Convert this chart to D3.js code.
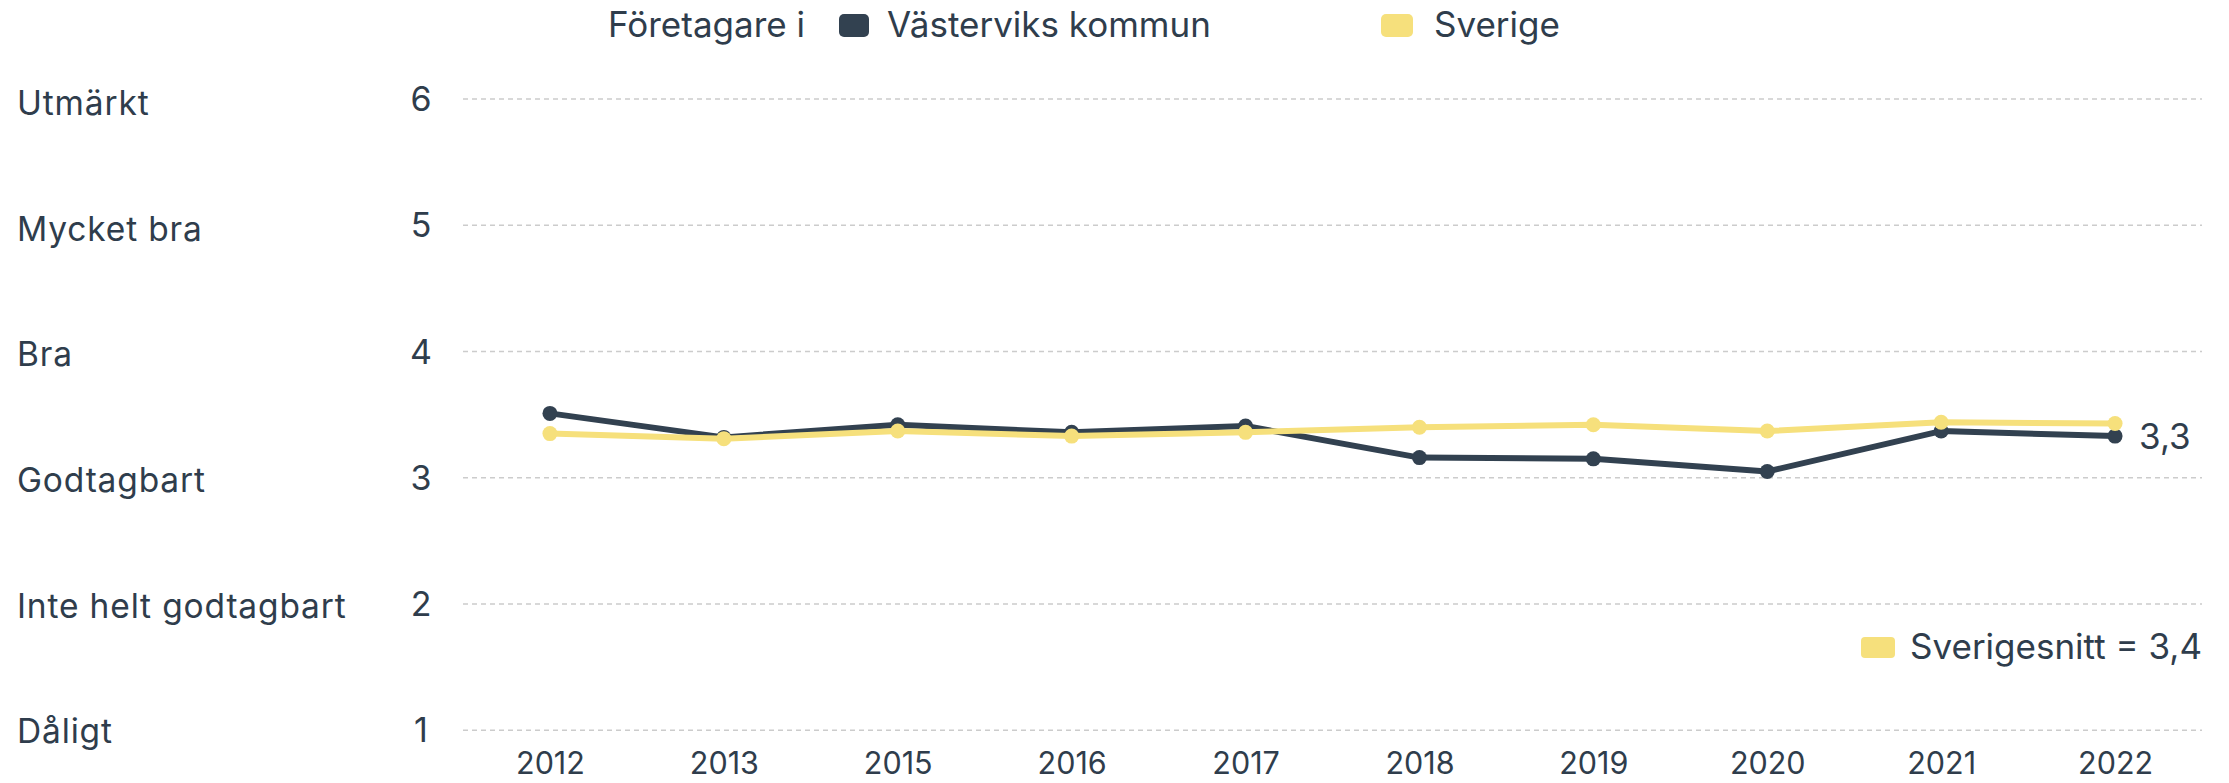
<!DOCTYPE html>
<html lang="sv">
<head>
<meta charset="utf-8">
<script src="https://cdn.jsdelivr.net/npm/d3@7"></script>
<style>
  html, body { margin: 0; padding: 0; background: #ffffff; }
  svg { display: block; font-family: "Inter", "Noto Sans", sans-serif; }
</style>
</head>
<body>
<svg id="chart" width="2229" height="783"></svg>
<script>
// Företagarnas omdöme om det lokala företagsklimatet, 2012–2022
const years = ["2012", "2013", "2015", "2016", "2017", "2018", "2019", "2020", "2021", "2022"];
const vastervik = [3.51, 3.32, 3.42, 3.36, 3.41, 3.16, 3.15, 3.05, 3.37, 3.33];
const sverige = [3.35, 3.31, 3.37, 3.33, 3.36, 3.40, 3.42, 3.37, 3.44, 3.43];
const yTicks = [1, 2, 3, 4, 5, 6];
const gradeLabels = ["Dåligt", "Inte helt godtagbart", "Godtagbart", "Bra", "Mycket bra", "Utmärkt"];
const seriesNames = ["Västerviks kommun", "Sverige"];
const legendTitle = "Företagare i";
const lastValueLabel = "3,3";
const averageLabel = "Sverigesnitt = 3,4";

const colors = { dark: "#324150", yellow: "#f6e07c", text: "#2f3d4c", grid: "#cccccc" };

const svg = d3.select("#chart");

const x = d3.scalePoint().domain(years).range([463, 2202]).padding(0.5);
const y = d3.scaleLinear().domain([1, 6]).range([730.3, 99]);

// Dashed horizontal grid
svg.append("g")
  .selectAll("line")
  .data(yTicks)
  .join("line")
  .attr("x1", 463).attr("x2", 2202)
  .attr("y1", d => y(d)).attr("y2", d => y(d))
  .attr("stroke", colors.grid)
  .attr("stroke-width", 1.5)
  .attr("stroke-dasharray", "5,4");

// Numeric scale values
svg.append("g")
  .selectAll("text")
  .data(yTicks)
  .join("text")
  .attr("x", 421)
  .attr("y", d => y(d) + 12)
  .attr("text-anchor", "middle")
  .attr("fill", colors.text)
  .attr("font-size", 34)
  .text(d => d);

// Grade names
svg.append("g")
  .selectAll("text")
  .data(yTicks)
  .join("text")
  .attr("x", 17)
  .attr("y", (d, i) => y(d) + 13 + i * 0.6)
  .attr("fill", colors.text)
  .attr("font-size", 33.5)
  .attr("letter-spacing", 0.85)
  .text((d, i) => gradeLabels[i]);

// Year axis
const xAxis = svg.append("g")
  .attr("transform", "translate(0,752)")
  .call(d3.axisBottom(x).tickSize(0).tickPadding(0));
xAxis.select(".domain").remove();
xAxis.selectAll("text")
  .attr("fill", colors.text)
  .attr("font-size", 30.5)
  .attr("font-family", "Inter, sans-serif")
  .attr("dy", "0.71em");

const line = d3.line().x((d, i) => x(years[i])).y(d => y(d));

function drawSeries(values, color) {
  const g = svg.append("g");
  g.append("path")
    .datum(values)
    .attr("d", line)
    .attr("fill", "none")
    .attr("stroke", color)
    .attr("stroke-width", 6)
    .attr("stroke-linejoin", "round");
  g.selectAll("circle")
    .data(values)
    .join("circle")
    .attr("cx", (d, i) => x(years[i]))
    .attr("cy", d => y(d))
    .attr("r", 7.5)
    .attr("fill", color);
}

drawSeries(vastervik, colors.dark);
drawSeries(sverige, colors.yellow);

// Value label at the last municipality point
svg.append("text")
  .attr("x", x(years[years.length - 1]) + 24)
  .attr("y", y(vastervik[vastervik.length - 1]))
  .attr("dy", "0.36em")
  .attr("fill", colors.text)
  .attr("font-size", 35)
  .text(lastValueLabel);

// Top legend
const legend = svg.append("g").attr("font-size", 35).attr("fill", colors.text);
legend.append("text").attr("x", 608).attr("y", 37).text(legendTitle);
legend.append("rect").attr("x", 839).attr("y", 14).attr("width", 30).attr("height", 23)
  .attr("rx", 5).attr("fill", colors.dark);
legend.append("text").attr("x", 887).attr("y", 37).text(seriesNames[0]);
legend.append("rect").attr("x", 1381).attr("y", 14).attr("width", 32).attr("height", 23)
  .attr("rx", 5).attr("fill", colors.yellow);
legend.append("text").attr("x", 1434).attr("y", 37).text(seriesNames[1]);

// National average note
svg.append("rect").attr("x", 1861).attr("y", 637).attr("width", 34).attr("height", 21)
  .attr("rx", 4).attr("fill", colors.yellow);
svg.append("text")
  .attr("x", 2202).attr("y", 659)
  .attr("text-anchor", "end")
  .attr("fill", colors.text)
  .attr("font-size", 35)
  .text(averageLabel);
</script>
</body>
</html>
